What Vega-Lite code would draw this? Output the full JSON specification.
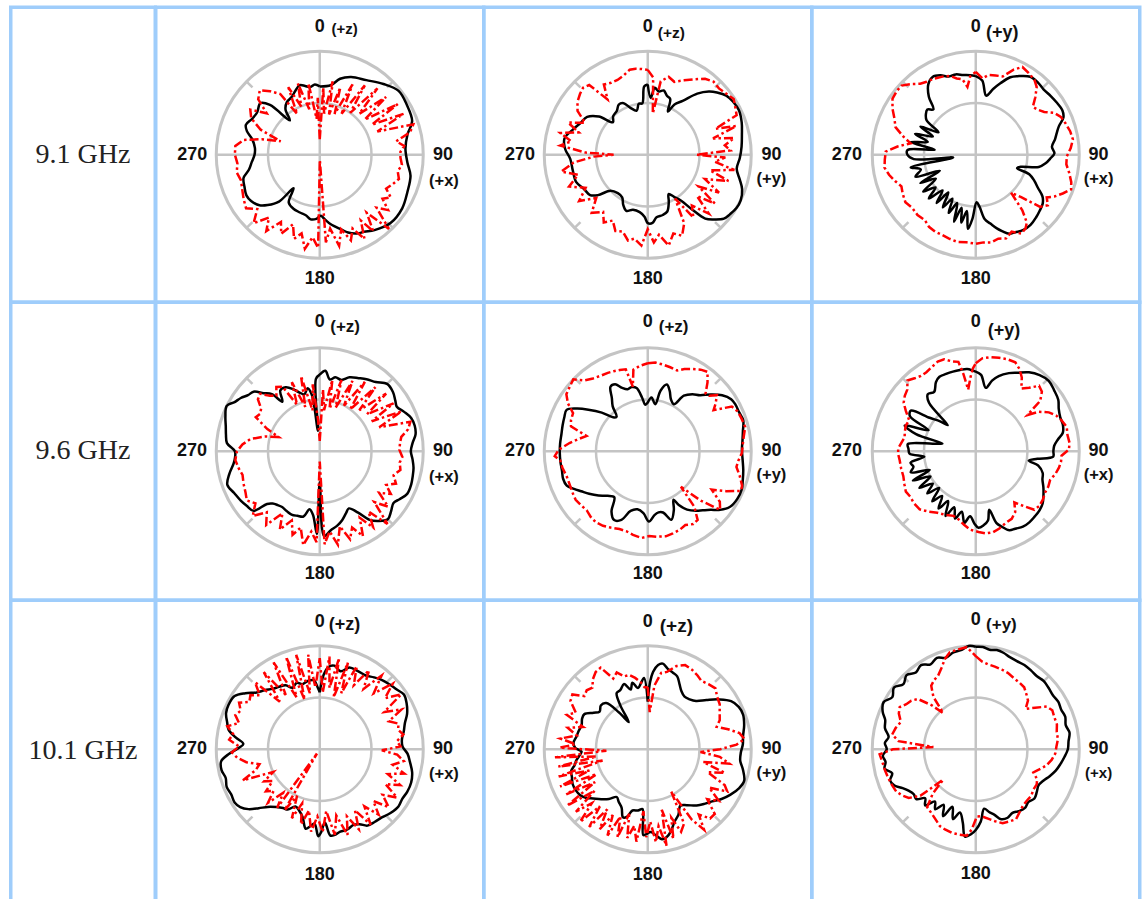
{
"$schema":"https://vega.github.io/schema/vega-lite/v6.json",
"padding":{"left":8.75,"top":5.25,"right":0,"bottom":0},
"config":{"view":{"stroke":"#9fcdfb","strokeWidth":3.5},"concat":{"spacing":0}},
"datasets":{
"grid":[{"x":-1,"y":0,"x2":1,"y2":0},{"x":0,"y":-1,"x2":0,"y2":1},{"x":0.65,"y":0.65,"x2":0.707,"y2":0.707},{"x":0.65,"y":-0.65,"x2":0.707,"y2":-0.707},{"x":-0.65,"y":-0.65,"x2":-0.707,"y2":-0.707},{"x":-0.65,"y":0.65,"x2":-0.707,"y2":0.707}],
"k11":[{"a":0,"r":0.66},{"a":9,"r":0.68},{"a":15,"r":0.76},{"a":22,"r":0.81},{"a":32,"r":0.85},{"a":42,"r":0.92},{"a":51,"r":0.98},{"a":60,"r":0.97},{"a":70,"r":0.95},{"a":77,"r":0.87},{"a":86,"r":0.83},{"a":95,"r":0.85},{"a":103,"r":0.9},{"a":113,"r":0.92},{"a":123,"r":0.95},{"a":134,"r":0.95},{"a":144,"r":0.9},{"a":150,"r":0.86},{"a":155,"r":0.84},{"a":160,"r":0.8},{"a":164,"r":0.75},{"a":171,"r":0.68},{"a":176,"r":0.62},{"a":179,"r":0.59},{"a":183,"r":0.62},{"a":188,"r":0.63},{"a":193,"r":0.6},{"a":199,"r":0.59},{"a":206,"r":0.58},{"a":213,"r":0.55},{"a":218,"r":0.41},{"a":221,"r":0.6},{"a":226,"r":0.7},{"a":230,"r":0.76},{"a":236,"r":0.8},{"a":241,"r":0.81},{"a":247,"r":0.79},{"a":253,"r":0.77},{"a":258,"r":0.7},{"a":264,"r":0.66},{"a":270,"r":0.63},{"a":276,"r":0.63},{"a":283,"r":0.67},{"a":288,"r":0.74},{"a":292,"r":0.77},{"a":298,"r":0.74},{"a":304,"r":0.73},{"a":311,"r":0.76},{"a":315,"r":0.68},{"a":319,"r":0.44},{"a":323,"r":0.55},{"a":328,"r":0.6},{"a":334,"r":0.62},{"a":339,"r":0.66},{"a":344,"r":0.7},{"a":348,"r":0.68},{"a":352,"r":0.66},{"a":356,"r":0.68},{"a":360,"r":0.66}],
"r11":[{"a":0,"r":0.15},{"a":3,"r":0.65},{"a":6,"r":0.4},{"a":10,"r":0.72},{"a":13,"r":0.4},{"a":17,"r":0.68},{"a":20,"r":0.42},{"a":25,"r":0.75},{"a":28,"r":0.45},{"a":33,"r":0.8},{"a":36,"r":0.5},{"a":41,"r":0.85},{"a":44,"r":0.55},{"a":49,"r":0.85},{"a":52,"r":0.55},{"a":57,"r":0.9},{"a":60,"r":0.58},{"a":64,"r":0.9},{"a":68,"r":0.6},{"a":72,"r":0.95},{"a":76,"r":0.9},{"a":80,"r":0.75},{"a":84,"r":0.82},{"a":88,"r":0.78},{"a":92,"r":0.78},{"a":97,"r":0.8},{"a":102,"r":0.77},{"a":107,"r":0.8},{"a":112,"r":0.76},{"a":117,"r":0.72},{"a":121,"r":0.8},{"a":125,"r":0.74},{"a":129,"r":0.85},{"a":133,"r":0.75},{"a":137,"r":0.98},{"a":141,"r":0.72},{"a":145,"r":0.9},{"a":148,"r":0.75},{"a":152,"r":0.92},{"a":156,"r":0.78},{"a":160,"r":0.88},{"a":164,"r":0.75},{"a":168,"r":0.9},{"a":172,"r":0.72},{"a":176,"r":0.85},{"a":179,"r":0.05},{"a":181,"r":0.9},{"a":185,"r":0.8},{"a":189,"r":0.92},{"a":193,"r":0.78},{"a":197,"r":0.85},{"a":201,"r":0.72},{"a":206,"r":0.85},{"a":210,"r":0.75},{"a":215,"r":0.9},{"a":219,"r":0.78},{"a":224,"r":0.92},{"a":229,"r":0.8},{"a":234,"r":0.88},{"a":240,"r":0.85},{"a":246,"r":0.82},{"a":252,"r":0.8},{"a":258,"r":0.82},{"a":264,"r":0.8},{"a":270,"r":0.82},{"a":276,"r":0.82},{"a":281,"r":0.75},{"a":285,"r":0.58},{"a":289,"r":0.4},{"a":293,"r":0.62},{"a":298,"r":0.75},{"a":303,"r":0.8},{"a":308,"r":0.65},{"a":312,"r":0.8},{"a":317,"r":0.85},{"a":322,"r":0.78},{"a":327,"r":0.7},{"a":331,"r":0.45},{"a":335,"r":0.72},{"a":339,"r":0.5},{"a":343,"r":0.72},{"a":347,"r":0.45},{"a":351,"r":0.7},{"a":355,"r":0.35},{"a":358,"r":0.55},{"a":360,"r":0.15}],
"k12":[{"a":0,"r":0.68},{"a":3,"r":0.55},{"a":6,"r":0.65},{"a":10,"r":0.62},{"a":14,"r":0.64},{"a":18,"r":0.6},{"a":22,"r":0.58},{"a":25,"r":0.46},{"a":28,"r":0.55},{"a":33,"r":0.62},{"a":39,"r":0.76},{"a":44,"r":0.85},{"a":48,"r":0.9},{"a":53,"r":0.95},{"a":58,"r":0.97},{"a":64,"r":0.98},{"a":71,"r":0.96},{"a":78,"r":0.93},{"a":85,"r":0.91},{"a":92,"r":0.89},{"a":99,"r":0.87},{"a":105,"r":0.92},{"a":110,"r":0.97},{"a":116,"r":1.0},{"a":121,"r":1.0},{"a":126,"r":0.98},{"a":130,"r":0.96},{"a":134,"r":0.9},{"a":138,"r":0.83},{"a":141,"r":0.68},{"a":144,"r":0.55},{"a":148,"r":0.48},{"a":152,"r":0.43},{"a":156,"r":0.5},{"a":161,"r":0.58},{"a":166,"r":0.6},{"a":172,"r":0.61},{"a":176,"r":0.66},{"a":180,"r":0.66},{"a":183,"r":0.6},{"a":188,"r":0.56},{"a":195,"r":0.55},{"a":201,"r":0.58},{"a":206,"r":0.54},{"a":211,"r":0.48},{"a":218,"r":0.47},{"a":226,"r":0.5},{"a":231,"r":0.62},{"a":235,"r":0.68},{"a":242,"r":0.7},{"a":249,"r":0.74},{"a":258,"r":0.74},{"a":267,"r":0.75},{"a":274,"r":0.8},{"a":281,"r":0.82},{"a":289,"r":0.76},{"a":295,"r":0.72},{"a":302,"r":0.69},{"a":308,"r":0.6},{"a":313,"r":0.46},{"a":318,"r":0.5},{"a":325,"r":0.52},{"a":330,"r":0.56},{"a":335,"r":0.55},{"a":340,"r":0.48},{"a":346,"r":0.44},{"a":350,"r":0.5},{"a":354,"r":0.5},{"a":357,"r":0.66},{"a":360,"r":0.68}],
"r12":[{"a":0,"r":0.82},{"a":4,"r":0.75},{"a":7,"r":0.4},{"a":10,"r":0.72},{"a":15,"r":0.78},{"a":20,"r":0.75},{"a":26,"r":0.8},{"a":32,"r":0.86},{"a":37,"r":0.92},{"a":42,"r":0.95},{"a":47,"r":0.94},{"a":52,"r":0.96},{"a":57,"r":0.99},{"a":62,"r":0.96},{"a":66,"r":0.94},{"a":69,"r":0.7},{"a":72,"r":0.9},{"a":76,"r":0.65},{"a":79,"r":0.85},{"a":83,"r":0.75},{"a":87,"r":0.8},{"a":90,"r":0.47},{"a":92,"r":0.75},{"a":96,"r":0.65},{"a":100,"r":0.85},{"a":104,"r":0.62},{"a":108,"r":0.82},{"a":113,"r":0.6},{"a":118,"r":0.78},{"a":122,"r":0.58},{"a":126,"r":0.8},{"a":130,"r":0.62},{"a":134,"r":0.82},{"a":139,"r":0.65},{"a":144,"r":0.75},{"a":148,"r":0.5},{"a":152,"r":0.75},{"a":157,"r":0.85},{"a":162,"r":0.8},{"a":167,"r":0.9},{"a":172,"r":0.78},{"a":176,"r":0.85},{"a":180,"r":0.72},{"a":184,"r":0.88},{"a":189,"r":0.82},{"a":193,"r":0.85},{"a":198,"r":0.78},{"a":203,"r":0.8},{"a":208,"r":0.72},{"a":213,"r":0.78},{"a":218,"r":0.7},{"a":224,"r":0.78},{"a":230,"r":0.65},{"a":236,"r":0.8},{"a":242,"r":0.68},{"a":248,"r":0.82},{"a":254,"r":0.7},{"a":259,"r":0.85},{"a":264,"r":0.72},{"a":268,"r":0.52},{"a":270,"r":0.33},{"a":272,"r":0.6},{"a":276,"r":0.85},{"a":280,"r":0.75},{"a":284,"r":0.87},{"a":288,"r":0.7},{"a":292,"r":0.83},{"a":297,"r":0.68},{"a":302,"r":0.8},{"a":307,"r":0.85},{"a":312,"r":0.88},{"a":316,"r":0.9},{"a":320,"r":0.88},{"a":324,"r":0.66},{"a":328,"r":0.8},{"a":333,"r":0.78},{"a":338,"r":0.78},{"a":343,"r":0.8},{"a":348,"r":0.84},{"a":352,"r":0.84},{"a":356,"r":0.83},{"a":360,"r":0.82}],
"k13":[{"a":0,"r":0.76},{"a":5,"r":0.72},{"a":10,"r":0.58},{"a":15,"r":0.66},{"a":19,"r":0.73},{"a":24,"r":0.82},{"a":28,"r":0.86},{"a":35,"r":0.92},{"a":41,"r":0.92},{"a":46,"r":0.91},{"a":52,"r":0.92},{"a":57,"r":0.93},{"a":63,"r":0.94},{"a":67,"r":0.92},{"a":71,"r":0.85},{"a":75,"r":0.81},{"a":79,"r":0.78},{"a":84,"r":0.74},{"a":89,"r":0.76},{"a":93,"r":0.72},{"a":97,"r":0.68},{"a":101,"r":0.62},{"a":105,"r":0.45},{"a":108,"r":0.42},{"a":110,"r":0.55},{"a":114,"r":0.62},{"a":118,"r":0.68},{"a":122,"r":0.76},{"a":126,"r":0.8},{"a":131,"r":0.82},{"a":136,"r":0.84},{"a":142,"r":0.86},{"a":148,"r":0.86},{"a":153,"r":0.84},{"a":157,"r":0.83},{"a":161,"r":0.78},{"a":164,"r":0.74},{"a":168,"r":0.68},{"a":172,"r":0.63},{"a":176,"r":0.5},{"a":179,"r":0.46},{"a":183,"r":0.62},{"a":186,"r":0.72},{"a":189,"r":0.55},{"a":192,"r":0.67},{"a":195,"r":0.53},{"a":198,"r":0.68},{"a":201,"r":0.5},{"a":205,"r":0.62},{"a":208,"r":0.48},{"a":212,"r":0.6},{"a":216,"r":0.45},{"a":219,"r":0.6},{"a":223,"r":0.47},{"a":227,"r":0.62},{"a":231,"r":0.5},{"a":235,"r":0.62},{"a":239,"r":0.45},{"a":243,"r":0.6},{"a":246,"r":0.38},{"a":250,"r":0.62},{"a":255,"r":0.55},{"a":259,"r":0.64},{"a":263,"r":0.22},{"a":266,"r":0.6},{"a":270,"r":0.66},{"a":274,"r":0.66},{"a":277,"r":0.4},{"a":281,"r":0.64},{"a":285,"r":0.48},{"a":289,"r":0.62},{"a":293,"r":0.45},{"a":297,"r":0.6},{"a":301,"r":0.42},{"a":305,"r":0.58},{"a":309,"r":0.62},{"a":313,"r":0.64},{"a":317,"r":0.6},{"a":321,"r":0.72},{"a":326,"r":0.82},{"a":331,"r":0.86},{"a":336,"r":0.84},{"a":341,"r":0.8},{"a":346,"r":0.8},{"a":351,"r":0.78},{"a":356,"r":0.77},{"a":360,"r":0.76}],
"r13":[{"a":0,"r":0.8},{"a":5,"r":0.74},{"a":9,"r":0.78},{"a":14,"r":0.79},{"a":19,"r":0.8},{"a":24,"r":0.9},{"a":28,"r":0.96},{"a":33,"r":0.94},{"a":38,"r":0.92},{"a":42,"r":0.88},{"a":46,"r":0.8},{"a":50,"r":0.72},{"a":54,"r":0.74},{"a":58,"r":0.78},{"a":62,"r":0.86},{"a":66,"r":0.9},{"a":71,"r":0.92},{"a":76,"r":0.94},{"a":81,"r":0.95},{"a":86,"r":0.92},{"a":91,"r":0.88},{"a":96,"r":0.88},{"a":101,"r":0.92},{"a":106,"r":0.96},{"a":110,"r":0.98},{"a":114,"r":0.92},{"a":118,"r":0.86},{"a":121,"r":0.8},{"a":125,"r":0.85},{"a":129,"r":0.8},{"a":133,"r":0.6},{"a":137,"r":0.5},{"a":140,"r":0.7},{"a":143,"r":0.82},{"a":146,"r":0.86},{"a":150,"r":0.88},{"a":155,"r":0.82},{"a":160,"r":0.86},{"a":165,"r":0.84},{"a":170,"r":0.86},{"a":175,"r":0.85},{"a":180,"r":0.86},{"a":186,"r":0.85},{"a":192,"r":0.86},{"a":198,"r":0.85},{"a":203,"r":0.84},{"a":208,"r":0.84},{"a":213,"r":0.83},{"a":218,"r":0.8},{"a":224,"r":0.81},{"a":230,"r":0.8},{"a":236,"r":0.82},{"a":242,"r":0.8},{"a":247,"r":0.78},{"a":252,"r":0.82},{"a":257,"r":0.86},{"a":262,"r":0.89},{"a":267,"r":0.88},{"a":272,"r":0.87},{"a":276,"r":0.76},{"a":280,"r":0.64},{"a":284,"r":0.72},{"a":289,"r":0.82},{"a":294,"r":0.86},{"a":299,"r":0.92},{"a":304,"r":0.97},{"a":309,"r":0.98},{"a":313,"r":0.98},{"a":318,"r":0.92},{"a":322,"r":0.87},{"a":326,"r":0.85},{"a":331,"r":0.84},{"a":337,"r":0.82},{"a":342,"r":0.8},{"a":346,"r":0.76},{"a":350,"r":0.74},{"a":353,"r":0.66},{"a":356,"r":0.76},{"a":360,"r":0.8}],
"k21":[{"a":0,"r":0.74},{"a":4,"r":0.78},{"a":8,"r":0.7},{"a":12,"r":0.73},{"a":17,"r":0.72},{"a":22,"r":0.77},{"a":28,"r":0.8},{"a":33,"r":0.83},{"a":39,"r":0.86},{"a":45,"r":0.92},{"a":51,"r":0.91},{"a":56,"r":0.88},{"a":60,"r":0.86},{"a":65,"r":0.9},{"a":70,"r":0.94},{"a":75,"r":0.95},{"a":80,"r":0.94},{"a":85,"r":0.9},{"a":90,"r":0.88},{"a":95,"r":0.9},{"a":100,"r":0.92},{"a":105,"r":0.93},{"a":110,"r":0.94},{"a":116,"r":0.94},{"a":121,"r":0.9},{"a":125,"r":0.87},{"a":130,"r":0.9},{"a":135,"r":0.93},{"a":140,"r":0.88},{"a":144,"r":0.82},{"a":148,"r":0.7},{"a":153,"r":0.62},{"a":157,"r":0.65},{"a":162,"r":0.7},{"a":167,"r":0.74},{"a":172,"r":0.77},{"a":177,"r":0.82},{"a":180,"r":0.3},{"a":182,"r":0.8},{"a":186,"r":0.62},{"a":190,"r":0.57},{"a":194,"r":0.65},{"a":199,"r":0.66},{"a":204,"r":0.67},{"a":209,"r":0.66},{"a":214,"r":0.65},{"a":218,"r":0.66},{"a":222,"r":0.68},{"a":225,"r":0.72},{"a":228,"r":0.86},{"a":233,"r":0.88},{"a":238,"r":0.9},{"a":244,"r":0.92},{"a":250,"r":0.95},{"a":256,"r":0.9},{"a":262,"r":0.84},{"a":266,"r":0.82},{"a":270,"r":0.82},{"a":275,"r":0.9},{"a":280,"r":0.92},{"a":285,"r":0.94},{"a":290,"r":0.97},{"a":296,"r":1.0},{"a":300,"r":0.95},{"a":304,"r":0.92},{"a":308,"r":0.88},{"a":312,"r":0.86},{"a":316,"r":0.78},{"a":320,"r":0.72},{"a":323,"r":0.6},{"a":327,"r":0.7},{"a":332,"r":0.7},{"a":337,"r":0.65},{"a":341,"r":0.6},{"a":345,"r":0.57},{"a":349,"r":0.62},{"a":352,"r":0.55},{"a":355,"r":0.2},{"a":357,"r":0.7},{"a":360,"r":0.74}],
"r21":[{"a":0,"r":0.1},{"a":3,"r":0.6},{"a":6,"r":0.4},{"a":10,"r":0.7},{"a":13,"r":0.42},{"a":17,"r":0.72},{"a":20,"r":0.45},{"a":25,"r":0.75},{"a":28,"r":0.5},{"a":33,"r":0.8},{"a":36,"r":0.5},{"a":41,"r":0.82},{"a":44,"r":0.55},{"a":49,"r":0.85},{"a":52,"r":0.58},{"a":57,"r":0.85},{"a":60,"r":0.58},{"a":64,"r":0.88},{"a":68,"r":0.62},{"a":72,"r":0.92},{"a":76,"r":0.88},{"a":80,"r":0.8},{"a":84,"r":0.78},{"a":89,"r":0.77},{"a":94,"r":0.8},{"a":98,"r":0.78},{"a":103,"r":0.8},{"a":108,"r":0.75},{"a":113,"r":0.8},{"a":117,"r":0.72},{"a":121,"r":0.8},{"a":125,"r":0.7},{"a":129,"r":0.85},{"a":133,"r":0.72},{"a":137,"r":0.96},{"a":141,"r":0.75},{"a":145,"r":0.9},{"a":149,"r":0.75},{"a":153,"r":0.92},{"a":157,"r":0.8},{"a":161,"r":0.9},{"a":165,"r":0.75},{"a":169,"r":0.92},{"a":173,"r":0.78},{"a":177,"r":0.9},{"a":180,"r":0.1},{"a":182,"r":0.88},{"a":186,"r":0.78},{"a":190,"r":0.92},{"a":194,"r":0.76},{"a":198,"r":0.85},{"a":202,"r":0.72},{"a":207,"r":0.85},{"a":211,"r":0.7},{"a":216,"r":0.88},{"a":221,"r":0.78},{"a":226,"r":0.9},{"a":231,"r":0.8},{"a":236,"r":0.85},{"a":241,"r":0.82},{"a":247,"r":0.8},{"a":253,"r":0.78},{"a":258,"r":0.8},{"a":264,"r":0.82},{"a":270,"r":0.8},{"a":275,"r":0.75},{"a":280,"r":0.68},{"a":285,"r":0.55},{"a":289,"r":0.42},{"a":293,"r":0.55},{"a":298,"r":0.7},{"a":302,"r":0.68},{"a":306,"r":0.7},{"a":310,"r":0.78},{"a":314,"r":0.8},{"a":318,"r":0.72},{"a":322,"r":0.68},{"a":326,"r":0.75},{"a":330,"r":0.72},{"a":334,"r":0.5},{"a":338,"r":0.72},{"a":342,"r":0.45},{"a":346,"r":0.75},{"a":350,"r":0.4},{"a":354,"r":0.65},{"a":357,"r":0.3},{"a":360,"r":0.1}],
"k22":[{"a":0,"r":0.47},{"a":4,"r":0.52},{"a":9,"r":0.46},{"a":12,"r":0.6},{"a":16,"r":0.67},{"a":20,"r":0.62},{"a":24,"r":0.55},{"a":29,"r":0.52},{"a":33,"r":0.64},{"a":38,"r":0.7},{"a":43,"r":0.74},{"a":48,"r":0.82},{"a":53,"r":0.9},{"a":58,"r":0.95},{"a":62,"r":0.96},{"a":67,"r":0.96},{"a":72,"r":0.97},{"a":78,"r":0.94},{"a":84,"r":0.92},{"a":89,"r":0.91},{"a":95,"r":0.92},{"a":101,"r":0.94},{"a":107,"r":0.96},{"a":112,"r":0.98},{"a":118,"r":0.98},{"a":124,"r":0.96},{"a":129,"r":0.9},{"a":133,"r":0.83},{"a":137,"r":0.78},{"a":141,"r":0.74},{"a":146,"r":0.68},{"a":150,"r":0.6},{"a":152,"r":0.53},{"a":156,"r":0.62},{"a":161,"r":0.7},{"a":166,"r":0.61},{"a":170,"r":0.6},{"a":174,"r":0.62},{"a":179,"r":0.68},{"a":184,"r":0.6},{"a":190,"r":0.57},{"a":196,"r":0.6},{"a":201,"r":0.71},{"a":206,"r":0.74},{"a":211,"r":0.68},{"a":216,"r":0.55},{"a":222,"r":0.58},{"a":228,"r":0.64},{"a":234,"r":0.7},{"a":239,"r":0.75},{"a":243,"r":0.8},{"a":247,"r":0.85},{"a":252,"r":0.86},{"a":257,"r":0.85},{"a":263,"r":0.85},{"a":269,"r":0.85},{"a":275,"r":0.85},{"a":281,"r":0.85},{"a":287,"r":0.86},{"a":292,"r":0.87},{"a":297,"r":0.88},{"a":301,"r":0.8},{"a":305,"r":0.7},{"a":310,"r":0.58},{"a":315,"r":0.46},{"a":318,"r":0.45},{"a":322,"r":0.55},{"a":326,"r":0.62},{"a":330,"r":0.72},{"a":334,"r":0.72},{"a":338,"r":0.66},{"a":342,"r":0.63},{"a":346,"r":0.64},{"a":350,"r":0.62},{"a":354,"r":0.52},{"a":357,"r":0.45},{"a":360,"r":0.47}],
"r22":[{"a":0,"r":0.85},{"a":5,"r":0.86},{"a":10,"r":0.85},{"a":15,"r":0.84},{"a":20,"r":0.83},{"a":24,"r":0.87},{"a":28,"r":0.9},{"a":33,"r":0.94},{"a":37,"r":0.96},{"a":41,"r":0.88},{"a":45,"r":0.79},{"a":48,"r":0.8},{"a":51,"r":0.86},{"a":55,"r":0.8},{"a":58,"r":0.75},{"a":62,"r":0.92},{"a":66,"r":0.95},{"a":71,"r":0.96},{"a":76,"r":0.97},{"a":81,"r":0.94},{"a":86,"r":0.92},{"a":91,"r":0.91},{"a":96,"r":0.88},{"a":100,"r":0.87},{"a":105,"r":0.92},{"a":110,"r":0.97},{"a":113,"r":0.98},{"a":117,"r":0.85},{"a":121,"r":0.72},{"a":125,"r":0.85},{"a":129,"r":0.9},{"a":133,"r":0.7},{"a":137,"r":0.47},{"a":140,"r":0.7},{"a":144,"r":0.82},{"a":148,"r":0.83},{"a":153,"r":0.8},{"a":158,"r":0.82},{"a":163,"r":0.83},{"a":168,"r":0.84},{"a":174,"r":0.83},{"a":179,"r":0.82},{"a":184,"r":0.84},{"a":190,"r":0.82},{"a":195,"r":0.8},{"a":200,"r":0.8},{"a":206,"r":0.82},{"a":211,"r":0.84},{"a":216,"r":0.85},{"a":221,"r":0.84},{"a":226,"r":0.82},{"a":231,"r":0.83},{"a":236,"r":0.84},{"a":241,"r":0.83},{"a":247,"r":0.82},{"a":253,"r":0.82},{"a":259,"r":0.84},{"a":264,"r":0.85},{"a":267,"r":0.9},{"a":271,"r":0.86},{"a":276,"r":0.76},{"a":280,"r":0.68},{"a":284,"r":0.61},{"a":288,"r":0.78},{"a":292,"r":0.8},{"a":297,"r":0.81},{"a":301,"r":0.9},{"a":305,"r":0.96},{"a":310,"r":0.98},{"a":314,"r":1.0},{"a":318,"r":0.92},{"a":323,"r":0.88},{"a":328,"r":0.86},{"a":333,"r":0.85},{"a":337,"r":0.84},{"a":341,"r":0.83},{"a":345,"r":0.82},{"a":347,"r":0.64},{"a":350,"r":0.8},{"a":355,"r":0.83},{"a":360,"r":0.85}],
"k23":[{"a":0,"r":0.77},{"a":4,"r":0.74},{"a":9,"r":0.62},{"a":13,"r":0.7},{"a":17,"r":0.76},{"a":23,"r":0.82},{"a":28,"r":0.86},{"a":34,"r":0.92},{"a":40,"r":0.96},{"a":46,"r":0.98},{"a":52,"r":0.96},{"a":58,"r":0.94},{"a":63,"r":0.9},{"a":68,"r":0.88},{"a":73,"r":0.88},{"a":78,"r":0.86},{"a":82,"r":0.8},{"a":86,"r":0.76},{"a":90,"r":0.75},{"a":94,"r":0.75},{"a":97,"r":0.6},{"a":100,"r":0.52},{"a":103,"r":0.62},{"a":108,"r":0.68},{"a":113,"r":0.7},{"a":118,"r":0.74},{"a":123,"r":0.78},{"a":128,"r":0.82},{"a":133,"r":0.84},{"a":138,"r":0.85},{"a":143,"r":0.86},{"a":148,"r":0.86},{"a":153,"r":0.84},{"a":157,"r":0.83},{"a":161,"r":0.77},{"a":164,"r":0.72},{"a":167,"r":0.58},{"a":170,"r":0.68},{"a":174,"r":0.72},{"a":178,"r":0.74},{"a":181,"r":0.7},{"a":185,"r":0.63},{"a":189,"r":0.7},{"a":193,"r":0.6},{"a":197,"r":0.68},{"a":201,"r":0.58},{"a":205,"r":0.69},{"a":209,"r":0.55},{"a":213,"r":0.66},{"a":217,"r":0.54},{"a":221,"r":0.64},{"a":225,"r":0.5},{"a":229,"r":0.62},{"a":233,"r":0.52},{"a":237,"r":0.65},{"a":241,"r":0.5},{"a":245,"r":0.67},{"a":248,"r":0.48},{"a":252,"r":0.66},{"a":256,"r":0.62},{"a":260,"r":0.64},{"a":264,"r":0.5},{"a":268,"r":0.64},{"a":272,"r":0.65},{"a":276,"r":0.66},{"a":280,"r":0.42},{"a":283,"r":0.33},{"a":286,"r":0.6},{"a":290,"r":0.73},{"a":294,"r":0.5},{"a":298,"r":0.72},{"a":302,"r":0.74},{"a":306,"r":0.55},{"a":310,"r":0.45},{"a":313,"r":0.37},{"a":316,"r":0.65},{"a":320,"r":0.72},{"a":325,"r":0.7},{"a":330,"r":0.77},{"a":334,"r":0.8},{"a":339,"r":0.8},{"a":344,"r":0.8},{"a":349,"r":0.8},{"a":354,"r":0.8},{"a":358,"r":0.78},{"a":360,"r":0.77}],
"r23":[{"a":0,"r":0.85},{"a":4,"r":0.9},{"a":9,"r":0.92},{"a":14,"r":0.93},{"a":19,"r":0.94},{"a":24,"r":0.94},{"a":28,"r":0.9},{"a":32,"r":0.84},{"a":36,"r":0.75},{"a":40,"r":0.8},{"a":44,"r":0.88},{"a":48,"r":0.86},{"a":52,"r":0.79},{"a":55,"r":0.61},{"a":58,"r":0.72},{"a":62,"r":0.8},{"a":66,"r":0.85},{"a":70,"r":0.88},{"a":75,"r":0.91},{"a":80,"r":0.9},{"a":85,"r":0.91},{"a":89,"r":0.9},{"a":93,"r":0.83},{"a":97,"r":0.83},{"a":101,"r":0.82},{"a":106,"r":0.8},{"a":111,"r":0.77},{"a":116,"r":0.78},{"a":121,"r":0.78},{"a":126,"r":0.8},{"a":131,"r":0.81},{"a":135,"r":0.8},{"a":139,"r":0.7},{"a":143,"r":0.62},{"a":147,"r":0.7},{"a":152,"r":0.74},{"a":157,"r":0.75},{"a":163,"r":0.78},{"a":168,"r":0.8},{"a":173,"r":0.8},{"a":178,"r":0.78},{"a":184,"r":0.76},{"a":189,"r":0.72},{"a":194,"r":0.68},{"a":199,"r":0.66},{"a":205,"r":0.68},{"a":212,"r":0.7},{"a":218,"r":0.74},{"a":224,"r":0.78},{"a":230,"r":0.78},{"a":235,"r":0.77},{"a":240,"r":0.78},{"a":245,"r":0.76},{"a":251,"r":0.74},{"a":257,"r":0.74},{"a":263,"r":0.74},{"a":268,"r":0.75},{"a":272,"r":0.75},{"a":277,"r":0.72},{"a":281,"r":0.7},{"a":285,"r":0.71},{"a":290,"r":0.72},{"a":295,"r":0.71},{"a":300,"r":0.78},{"a":304,"r":0.84},{"a":308,"r":0.87},{"a":312,"r":0.89},{"a":316,"r":0.95},{"a":320,"r":0.92},{"a":324,"r":0.9},{"a":328,"r":0.9},{"a":333,"r":0.92},{"a":337,"r":0.94},{"a":341,"r":0.94},{"a":345,"r":0.9},{"a":349,"r":0.88},{"a":351,"r":0.75},{"a":353,"r":0.6},{"a":356,"r":0.72},{"a":358,"r":0.8},{"a":360,"r":0.85}],
"k31":[{"a":0,"r":0.55},{"a":3,"r":0.72},{"a":6,"r":0.8},{"a":10,"r":0.82},{"a":15,"r":0.78},{"a":20,"r":0.84},{"a":26,"r":0.84},{"a":32,"r":0.84},{"a":37,"r":0.87},{"a":42,"r":0.9},{"a":47,"r":0.92},{"a":52,"r":0.94},{"a":57,"r":0.97},{"a":62,"r":0.95},{"a":68,"r":0.91},{"a":73,"r":0.86},{"a":78,"r":0.83},{"a":83,"r":0.8},{"a":88,"r":0.8},{"a":93,"r":0.85},{"a":98,"r":0.88},{"a":104,"r":0.92},{"a":110,"r":0.94},{"a":116,"r":0.94},{"a":121,"r":0.93},{"a":126,"r":0.94},{"a":132,"r":0.92},{"a":138,"r":0.89},{"a":143,"r":0.88},{"a":148,"r":0.87},{"a":152,"r":0.82},{"a":156,"r":0.8},{"a":161,"r":0.82},{"a":166,"r":0.82},{"a":170,"r":0.84},{"a":173,"r":0.84},{"a":176,"r":0.71},{"a":179,"r":0.8},{"a":181,"r":0.84},{"a":184,"r":0.72},{"a":187,"r":0.75},{"a":190,"r":0.78},{"a":194,"r":0.68},{"a":198,"r":0.63},{"a":203,"r":0.6},{"a":208,"r":0.66},{"a":212,"r":0.67},{"a":217,"r":0.7},{"a":222,"r":0.75},{"a":226,"r":0.82},{"a":230,"r":0.9},{"a":234,"r":0.95},{"a":238,"r":0.97},{"a":243,"r":0.96},{"a":248,"r":0.97},{"a":253,"r":0.95},{"a":258,"r":0.97},{"a":263,"r":0.96},{"a":267,"r":0.88},{"a":271,"r":0.78},{"a":274,"r":0.74},{"a":278,"r":0.82},{"a":282,"r":0.9},{"a":286,"r":0.93},{"a":291,"r":0.97},{"a":296,"r":0.98},{"a":302,"r":0.97},{"a":307,"r":0.9},{"a":312,"r":0.82},{"a":317,"r":0.78},{"a":322,"r":0.74},{"a":327,"r":0.72},{"a":332,"r":0.7},{"a":336,"r":0.65},{"a":341,"r":0.68},{"a":345,"r":0.65},{"a":350,"r":0.67},{"a":355,"r":0.67},{"a":358,"r":0.6},{"a":360,"r":0.55}],
"r31":[{"a":0,"r":0.88},{"a":3,"r":0.55},{"a":6,"r":0.9},{"a":9,"r":0.6},{"a":12,"r":0.9},{"a":15,"r":0.52},{"a":18,"r":0.88},{"a":21,"r":0.58},{"a":24,"r":0.88},{"a":28,"r":0.7},{"a":32,"r":0.9},{"a":36,"r":0.72},{"a":40,"r":0.93},{"a":44,"r":0.75},{"a":48,"r":0.95},{"a":52,"r":0.8},{"a":56,"r":0.95},{"a":60,"r":0.72},{"a":64,"r":0.88},{"a":68,"r":0.72},{"a":72,"r":0.8},{"a":76,"r":0.78},{"a":80,"r":0.82},{"a":84,"r":0.75},{"a":88,"r":0.78},{"a":91,"r":0.6},{"a":94,"r":0.75},{"a":98,"r":0.82},{"a":102,"r":0.72},{"a":106,"r":0.85},{"a":110,"r":0.7},{"a":114,"r":0.85},{"a":118,"r":0.72},{"a":122,"r":0.88},{"a":126,"r":0.75},{"a":130,"r":0.87},{"a":134,"r":0.72},{"a":138,"r":0.85},{"a":142,"r":0.7},{"a":146,"r":0.88},{"a":150,"r":0.68},{"a":154,"r":0.86},{"a":158,"r":0.7},{"a":162,"r":0.87},{"a":166,"r":0.66},{"a":170,"r":0.84},{"a":174,"r":0.6},{"a":178,"r":0.8},{"a":182,"r":0.65},{"a":186,"r":0.8},{"a":190,"r":0.6},{"a":194,"r":0.75},{"a":198,"r":0.55},{"a":202,"r":0.72},{"a":206,"r":0.5},{"a":210,"r":0.68},{"a":213,"r":0.05},{"a":216,"r":0.7},{"a":220,"r":0.55},{"a":224,"r":0.72},{"a":228,"r":0.6},{"a":232,"r":0.66},{"a":236,"r":0.55},{"a":240,"r":0.62},{"a":244,"r":0.5},{"a":248,"r":0.8},{"a":252,"r":0.65},{"a":256,"r":0.6},{"a":260,"r":0.72},{"a":264,"r":0.8},{"a":268,"r":0.85},{"a":272,"r":0.78},{"a":276,"r":0.88},{"a":280,"r":0.85},{"a":284,"r":0.92},{"a":288,"r":0.82},{"a":292,"r":0.88},{"a":296,"r":0.85},{"a":300,"r":0.9},{"a":304,"r":0.82},{"a":308,"r":0.85},{"a":312,"r":0.78},{"a":316,"r":0.9},{"a":320,"r":0.6},{"a":324,"r":0.92},{"a":328,"r":0.62},{"a":332,"r":0.95},{"a":336,"r":0.55},{"a":340,"r":0.95},{"a":343,"r":0.5},{"a":346,"r":0.94},{"a":350,"r":0.55},{"a":353,"r":0.92},{"a":356,"r":0.6},{"a":360,"r":0.88}],
"k32":[{"a":0,"r":0.46},{"a":2,"r":0.65},{"a":4,"r":0.75},{"a":7,"r":0.82},{"a":10,"r":0.84},{"a":14,"r":0.8},{"a":18,"r":0.78},{"a":22,"r":0.76},{"a":26,"r":0.7},{"a":30,"r":0.65},{"a":35,"r":0.62},{"a":40,"r":0.63},{"a":45,"r":0.66},{"a":50,"r":0.74},{"a":55,"r":0.84},{"a":60,"r":0.93},{"a":65,"r":0.97},{"a":70,"r":0.98},{"a":76,"r":0.96},{"a":82,"r":0.93},{"a":87,"r":0.92},{"a":92,"r":0.9},{"a":97,"r":0.9},{"a":102,"r":0.94},{"a":108,"r":0.98},{"a":113,"r":0.96},{"a":119,"r":0.91},{"a":124,"r":0.86},{"a":129,"r":0.8},{"a":134,"r":0.76},{"a":139,"r":0.72},{"a":145,"r":0.66},{"a":150,"r":0.63},{"a":155,"r":0.7},{"a":160,"r":0.75},{"a":164,"r":0.82},{"a":168,"r":0.87},{"a":171,"r":0.88},{"a":175,"r":0.83},{"a":178,"r":0.8},{"a":181,"r":0.82},{"a":183,"r":0.83},{"a":185,"r":0.58},{"a":189,"r":0.6},{"a":194,"r":0.61},{"a":197,"r":0.68},{"a":200,"r":0.7},{"a":204,"r":0.62},{"a":209,"r":0.58},{"a":213,"r":0.55},{"a":218,"r":0.61},{"a":223,"r":0.66},{"a":228,"r":0.71},{"a":232,"r":0.76},{"a":236,"r":0.79},{"a":240,"r":0.8},{"a":245,"r":0.8},{"a":250,"r":0.78},{"a":254,"r":0.77},{"a":258,"r":0.72},{"a":261,"r":0.7},{"a":265,"r":0.66},{"a":268,"r":0.64},{"a":271,"r":0.7},{"a":275,"r":0.72},{"a":280,"r":0.7},{"a":285,"r":0.69},{"a":290,"r":0.68},{"a":295,"r":0.7},{"a":299,"r":0.7},{"a":304,"r":0.63},{"a":308,"r":0.59},{"a":313,"r":0.62},{"a":318,"r":0.6},{"a":322,"r":0.45},{"a":325,"r":0.32},{"a":328,"r":0.5},{"a":331,"r":0.62},{"a":335,"r":0.63},{"a":340,"r":0.67},{"a":344,"r":0.6},{"a":347,"r":0.66},{"a":351,"r":0.6},{"a":354,"r":0.64},{"a":357,"r":0.69},{"a":360,"r":0.46}],
"r32":[{"a":0,"r":0.6},{"a":3,"r":0.36},{"a":6,"r":0.62},{"a":10,"r":0.75},{"a":14,"r":0.77},{"a":19,"r":0.85},{"a":24,"r":0.89},{"a":29,"r":0.88},{"a":34,"r":0.86},{"a":38,"r":0.84},{"a":43,"r":0.86},{"a":48,"r":0.88},{"a":53,"r":0.84},{"a":58,"r":0.82},{"a":63,"r":0.78},{"a":68,"r":0.75},{"a":72,"r":0.7},{"a":76,"r":0.8},{"a":80,"r":0.9},{"a":84,"r":0.94},{"a":87,"r":0.86},{"a":90,"r":0.7},{"a":93,"r":0.51},{"a":96,"r":0.7},{"a":100,"r":0.8},{"a":103,"r":0.55},{"a":107,"r":0.78},{"a":111,"r":0.62},{"a":115,"r":0.82},{"a":118,"r":0.87},{"a":122,"r":0.7},{"a":126,"r":0.85},{"a":130,"r":0.75},{"a":134,"r":0.9},{"a":138,"r":0.9},{"a":142,"r":0.8},{"a":145,"r":0.95},{"a":148,"r":0.8},{"a":151,"r":0.47},{"a":154,"r":0.8},{"a":158,"r":0.86},{"a":161,"r":0.7},{"a":164,"r":0.9},{"a":167,"r":0.6},{"a":169,"r":0.95},{"a":172,"r":0.75},{"a":175,"r":0.9},{"a":178,"r":0.7},{"a":181,"r":0.85},{"a":184,"r":0.6},{"a":187,"r":0.9},{"a":190,"r":0.75},{"a":193,"r":0.88},{"a":196,"r":0.65},{"a":199,"r":0.9},{"a":202,"r":0.7},{"a":205,"r":0.92},{"a":208,"r":0.72},{"a":211,"r":0.9},{"a":214,"r":0.7},{"a":217,"r":0.94},{"a":220,"r":0.72},{"a":223,"r":0.96},{"a":226,"r":0.75},{"a":229,"r":0.92},{"a":232,"r":0.65},{"a":235,"r":0.95},{"a":238,"r":0.6},{"a":241,"r":0.9},{"a":244,"r":0.55},{"a":247,"r":0.92},{"a":250,"r":0.6},{"a":253,"r":0.9},{"a":256,"r":0.45},{"a":259,"r":0.88},{"a":262,"r":0.5},{"a":265,"r":0.9},{"a":268,"r":0.4},{"a":271,"r":0.85},{"a":274,"r":0.7},{"a":277,"r":0.85},{"a":281,"r":0.7},{"a":285,"r":0.8},{"a":289,"r":0.66},{"a":293,"r":0.85},{"a":297,"r":0.78},{"a":302,"r":0.88},{"a":306,"r":0.9},{"a":310,"r":0.8},{"a":314,"r":0.82},{"a":318,"r":0.8},{"a":322,"r":0.86},{"a":326,"r":0.9},{"a":330,"r":0.91},{"a":334,"r":0.76},{"a":338,"r":0.8},{"a":342,"r":0.74},{"a":346,"r":0.74},{"a":350,"r":0.7},{"a":354,"r":0.65},{"a":357,"r":0.6},{"a":360,"r":0.6}],
"k33":[{"a":0,"r":0.99},{"a":4,"r":0.99},{"a":8,"r":0.97},{"a":12,"r":0.98},{"a":16,"r":0.97},{"a":20,"r":0.95},{"a":25,"r":0.94},{"a":30,"r":0.94},{"a":35,"r":0.93},{"a":40,"r":0.92},{"a":45,"r":0.93},{"a":50,"r":0.92},{"a":55,"r":0.91},{"a":60,"r":0.92},{"a":65,"r":0.91},{"a":70,"r":0.92},{"a":75,"r":0.9},{"a":80,"r":0.92},{"a":85,"r":0.9},{"a":90,"r":0.89},{"a":95,"r":0.86},{"a":100,"r":0.83},{"a":105,"r":0.8},{"a":110,"r":0.76},{"a":115,"r":0.72},{"a":120,"r":0.7},{"a":125,"r":0.72},{"a":130,"r":0.74},{"a":135,"r":0.72},{"a":140,"r":0.74},{"a":145,"r":0.73},{"a":150,"r":0.71},{"a":155,"r":0.73},{"a":160,"r":0.72},{"a":164,"r":0.66},{"a":168,"r":0.62},{"a":172,"r":0.58},{"a":176,"r":0.7},{"a":180,"r":0.78},{"a":183,"r":0.82},{"a":187,"r":0.85},{"a":190,"r":0.72},{"a":194,"r":0.63},{"a":198,"r":0.71},{"a":202,"r":0.6},{"a":206,"r":0.72},{"a":210,"r":0.62},{"a":214,"r":0.7},{"a":218,"r":0.64},{"a":222,"r":0.73},{"a":226,"r":0.68},{"a":230,"r":0.75},{"a":234,"r":0.74},{"a":238,"r":0.76},{"a":242,"r":0.8},{"a":246,"r":0.86},{"a":250,"r":0.88},{"a":254,"r":0.84},{"a":258,"r":0.9},{"a":262,"r":0.88},{"a":266,"r":0.9},{"a":270,"r":0.86},{"a":274,"r":0.88},{"a":278,"r":0.85},{"a":283,"r":0.9},{"a":288,"r":0.92},{"a":292,"r":0.97},{"a":297,"r":1.0},{"a":302,"r":0.95},{"a":307,"r":0.99},{"a":312,"r":0.94},{"a":317,"r":0.98},{"a":322,"r":0.94},{"a":327,"r":0.97},{"a":332,"r":0.93},{"a":337,"r":0.96},{"a":342,"r":0.93},{"a":347,"r":0.96},{"a":352,"r":0.97},{"a":356,"r":1.0},{"a":360,"r":0.99}],
"r33":[{"a":0,"r":0.9},{"a":4,"r":0.85},{"a":8,"r":0.83},{"a":13,"r":0.82},{"a":18,"r":0.81},{"a":23,"r":0.8},{"a":28,"r":0.78},{"a":33,"r":0.77},{"a":38,"r":0.76},{"a":43,"r":0.72},{"a":47,"r":0.69},{"a":51,"r":0.62},{"a":55,"r":0.7},{"a":59,"r":0.8},{"a":63,"r":0.83},{"a":68,"r":0.82},{"a":73,"r":0.82},{"a":78,"r":0.8},{"a":83,"r":0.8},{"a":88,"r":0.78},{"a":93,"r":0.77},{"a":98,"r":0.74},{"a":103,"r":0.7},{"a":108,"r":0.64},{"a":112,"r":0.6},{"a":116,"r":0.66},{"a":120,"r":0.68},{"a":125,"r":0.68},{"a":130,"r":0.7},{"a":135,"r":0.7},{"a":140,"r":0.71},{"a":145,"r":0.74},{"a":150,"r":0.78},{"a":155,"r":0.77},{"a":160,"r":0.76},{"a":165,"r":0.72},{"a":170,"r":0.68},{"a":175,"r":0.65},{"a":179,"r":0.65},{"a":183,"r":0.78},{"a":186,"r":0.84},{"a":191,"r":0.84},{"a":196,"r":0.84},{"a":201,"r":0.83},{"a":205,"r":0.82},{"a":210,"r":0.78},{"a":215,"r":0.75},{"a":220,"r":0.73},{"a":224,"r":0.6},{"a":227,"r":0.43},{"a":230,"r":0.7},{"a":234,"r":0.8},{"a":238,"r":0.84},{"a":242,"r":0.87},{"a":247,"r":0.88},{"a":252,"r":0.89},{"a":257,"r":0.9},{"a":262,"r":0.91},{"a":267,"r":0.93},{"a":270,"r":0.8},{"a":273,"r":0.41},{"a":276,"r":0.75},{"a":280,"r":0.82},{"a":285,"r":0.8},{"a":290,"r":0.77},{"a":295,"r":0.82},{"a":299,"r":0.84},{"a":303,"r":0.8},{"a":307,"r":0.78},{"a":311,"r":0.74},{"a":315,"r":0.6},{"a":318,"r":0.47},{"a":321,"r":0.65},{"a":325,"r":0.75},{"a":329,"r":0.78},{"a":333,"r":0.8},{"a":337,"r":0.85},{"a":341,"r":0.92},{"a":345,"r":0.97},{"a":350,"r":0.98},{"a":355,"r":0.99},{"a":360,"r":0.9}]
},
"columns":4,"spacing":0,"bounds":"flush","align":"each",
"concat":[
{"width":144.5,"height":295,"data":{"values":[{"x":0,"y":0,"t":"9.1 GHz"}]},"mark":{"type":"text","font":"Liberation Serif","fontSize":28,"color":"#222"},"encoding":{"x":{"field":"x","type":"quantitative","scale":{"domain":[-1,1]},"axis":null},"y":{"field":"y","type":"quantitative","scale":{"domain":[-1,1]},"axis":null},"text":{"field":"t","type":"nominal"}}},
{"width":328,"height":295,"encoding":{"x":{"field":"x","type":"quantitative","scale":{"domain":[-1.5845,1.5845]},"axis":null},"y":{"field":"y","type":"quantitative","scale":{"domain":[-1.4251,1.4251]},"axis":null}},
"layer":[
{"data":{"name":"grid"},"mark":{"type":"rule","color":"#c4c4c4","strokeWidth":2.5},"encoding":{"x2":{"field":"x2"},"y2":{"field":"y2"}}},
{"data":{"values":[{"x":0,"y":0}]},"mark":{"type":"point","shape":"circle","filled":false,"size":42849,"color":"#c4c4c4","strokeWidth":3,"opacity":1}},
{"data":{"values":[{"x":0,"y":0}]},"mark":{"type":"point","shape":"circle","filled":false,"size":10712,"color":"#c4c4c4","strokeWidth":2.5,"opacity":1}},
{"data":{"name":"k11"},"transform":[{"calculate":"datum.r*sin(datum.a*PI/180)","as":"x"},{"calculate":"datum.r*cos(datum.a*PI/180)","as":"y"}],"mark":{"type":"line","color":"#000","strokeWidth":2.5,"interpolate":"catmull-rom"},"encoding":{"order":{"field":"a","type":"quantitative"}}},
{"data":{"name":"r11"},"transform":[{"calculate":"datum.r*sin(datum.a*PI/180)","as":"x"},{"calculate":"datum.r*cos(datum.a*PI/180)","as":"y"}],"mark":{"type":"line","color":"#ff0000","strokeWidth":2.5,"strokeDash":[9,3,2.5,3]},"encoding":{"order":{"field":"a","type":"quantitative"}}},
{"data":{"values":[{"x":0,"y":1.233,"t":"0"},{"x":0,"y":-1.205,"t":"180"},{"x":-1.232,"y":0,"t":"270"},{"x":1.19,"y":0,"t":"90"}]},"mark":{"type":"text","font":"Liberation Sans","fontSize":18,"fontWeight":"bold","color":"#111"},"encoding":{"text":{"field":"t","type":"nominal"}}},
{"data":{"values":[{"x":0.24,"y":1.217,"t":"(+z)"}]},"mark":{"type":"text","font":"Liberation Sans","fontSize":15,"fontWeight":"bold","color":"#111"},"encoding":{"text":{"field":"t","type":"nominal"}}},
{"data":{"values":[{"x":1.2,"y":-0.25,"t":"(+x)"}]},"mark":{"type":"text","font":"Liberation Sans","fontSize":16.5,"fontWeight":"bold","color":"#111"},"encoding":{"text":{"field":"t","type":"nominal"}}}
]},
{"width":328,"height":295,"encoding":{"x":{"field":"x","type":"quantitative","scale":{"domain":[-1.5845,1.5845]},"axis":null},"y":{"field":"y","type":"quantitative","scale":{"domain":[-1.4251,1.4251]},"axis":null}},
"layer":[
{"data":{"name":"grid"},"mark":{"type":"rule","color":"#c4c4c4","strokeWidth":2.5},"encoding":{"x2":{"field":"x2"},"y2":{"field":"y2"}}},
{"data":{"values":[{"x":0,"y":0}]},"mark":{"type":"point","shape":"circle","filled":false,"size":42849,"color":"#c4c4c4","strokeWidth":3,"opacity":1}},
{"data":{"values":[{"x":0,"y":0}]},"mark":{"type":"point","shape":"circle","filled":false,"size":10712,"color":"#c4c4c4","strokeWidth":2.5,"opacity":1}},
{"data":{"name":"k12"},"transform":[{"calculate":"datum.r*sin(datum.a*PI/180)","as":"x"},{"calculate":"datum.r*cos(datum.a*PI/180)","as":"y"}],"mark":{"type":"line","color":"#000","strokeWidth":2.5,"interpolate":"catmull-rom"},"encoding":{"order":{"field":"a","type":"quantitative"}}},
{"data":{"name":"r12"},"transform":[{"calculate":"datum.r*sin(datum.a*PI/180)","as":"x"},{"calculate":"datum.r*cos(datum.a*PI/180)","as":"y"}],"mark":{"type":"line","color":"#ff0000","strokeWidth":2.5,"strokeDash":[9,3,2.5,3]},"encoding":{"order":{"field":"a","type":"quantitative"}}},
{"data":{"values":[{"x":0,"y":1.233,"t":"0"},{"x":0,"y":-1.205,"t":"180"},{"x":-1.235,"y":0,"t":"270"},{"x":1.195,"y":0,"t":"90"}]},"mark":{"type":"text","font":"Liberation Sans","fontSize":18,"fontWeight":"bold","color":"#111"},"encoding":{"text":{"field":"t","type":"nominal"}}},
{"data":{"values":[{"x":0.228,"y":1.177,"t":"(+z)"}]},"mark":{"type":"text","font":"Liberation Sans","fontSize":15.5,"fontWeight":"bold","color":"#111"},"encoding":{"text":{"field":"t","type":"nominal"}}},
{"data":{"values":[{"x":1.195,"y":-0.23,"t":"(+y)"}]},"mark":{"type":"text","font":"Liberation Sans","fontSize":16.5,"fontWeight":"bold","color":"#111"},"encoding":{"text":{"field":"t","type":"nominal"}}}
]},
{"width":328,"height":295,"encoding":{"x":{"field":"x","type":"quantitative","scale":{"domain":[-1.5845,1.5845]},"axis":null},"y":{"field":"y","type":"quantitative","scale":{"domain":[-1.4251,1.4251]},"axis":null}},
"layer":[
{"data":{"name":"grid"},"mark":{"type":"rule","color":"#c4c4c4","strokeWidth":2.5},"encoding":{"x2":{"field":"x2"},"y2":{"field":"y2"}}},
{"data":{"values":[{"x":0,"y":0}]},"mark":{"type":"point","shape":"circle","filled":false,"size":42849,"color":"#c4c4c4","strokeWidth":3,"opacity":1}},
{"data":{"values":[{"x":0,"y":0}]},"mark":{"type":"point","shape":"circle","filled":false,"size":10712,"color":"#c4c4c4","strokeWidth":2.5,"opacity":1}},
{"data":{"name":"k13"},"transform":[{"calculate":"datum.r*sin(datum.a*PI/180)","as":"x"},{"calculate":"datum.r*cos(datum.a*PI/180)","as":"y"}],"mark":{"type":"line","color":"#000","strokeWidth":2.5,"interpolate":"catmull-rom"},"encoding":{"order":{"field":"a","type":"quantitative"}}},
{"data":{"name":"r13"},"transform":[{"calculate":"datum.r*sin(datum.a*PI/180)","as":"x"},{"calculate":"datum.r*cos(datum.a*PI/180)","as":"y"}],"mark":{"type":"line","color":"#ff0000","strokeWidth":2.5,"strokeDash":[9,3,2.5,3]},"encoding":{"order":{"field":"a","type":"quantitative"}}},
{"data":{"values":[{"x":0,"y":1.233,"t":"0"},{"x":0,"y":-1.205,"t":"180"},{"x":-1.245,"y":0,"t":"270"},{"x":1.185,"y":0,"t":"90"}]},"mark":{"type":"text","font":"Liberation Sans","fontSize":18,"fontWeight":"bold","color":"#111"},"encoding":{"text":{"field":"t","type":"nominal"}}},
{"data":{"values":[{"x":0.257,"y":1.18,"t":"(+y)"}]},"mark":{"type":"text","font":"Liberation Sans","fontSize":18,"fontWeight":"bold","color":"#111"},"encoding":{"text":{"field":"t","type":"nominal"}}},
{"data":{"values":[{"x":1.187,"y":-0.23,"t":"(+x)"}]},"mark":{"type":"text","font":"Liberation Sans","fontSize":16.5,"fontWeight":"bold","color":"#111"},"encoding":{"text":{"field":"t","type":"nominal"}}}
]},
{"width":144.5,"height":298,"data":{"values":[{"x":0,"y":0,"t":"9.6 GHz"}]},"mark":{"type":"text","font":"Liberation Serif","fontSize":28,"color":"#222"},"encoding":{"x":{"field":"x","type":"quantitative","scale":{"domain":[-1,1]},"axis":null},"y":{"field":"y","type":"quantitative","scale":{"domain":[-1,1]},"axis":null},"text":{"field":"t","type":"nominal"}}},
{"width":328,"height":298,"encoding":{"x":{"field":"x","type":"quantitative","scale":{"domain":[-1.5845,1.5845]},"axis":null},"y":{"field":"y","type":"quantitative","scale":{"domain":[-1.4396,1.4396]},"axis":null}},
"layer":[
{"data":{"name":"grid"},"mark":{"type":"rule","color":"#c4c4c4","strokeWidth":2.5},"encoding":{"x2":{"field":"x2"},"y2":{"field":"y2"}}},
{"data":{"values":[{"x":0,"y":0}]},"mark":{"type":"point","shape":"circle","filled":false,"size":42849,"color":"#c4c4c4","strokeWidth":3,"opacity":1}},
{"data":{"values":[{"x":0,"y":0}]},"mark":{"type":"point","shape":"circle","filled":false,"size":10712,"color":"#c4c4c4","strokeWidth":2.5,"opacity":1}},
{"data":{"name":"k21"},"transform":[{"calculate":"datum.r*sin(datum.a*PI/180)","as":"x"},{"calculate":"datum.r*cos(datum.a*PI/180)","as":"y"}],"mark":{"type":"line","color":"#000","strokeWidth":2.5,"interpolate":"catmull-rom"},"encoding":{"order":{"field":"a","type":"quantitative"}}},
{"data":{"name":"r21"},"transform":[{"calculate":"datum.r*sin(datum.a*PI/180)","as":"x"},{"calculate":"datum.r*cos(datum.a*PI/180)","as":"y"}],"mark":{"type":"line","color":"#ff0000","strokeWidth":2.5,"strokeDash":[9,3,2.5,3]},"encoding":{"order":{"field":"a","type":"quantitative"}}},
{"data":{"values":[{"x":0,"y":1.253,"t":"0"},{"x":0,"y":-1.19,"t":"180"},{"x":-1.235,"y":0,"t":"270"},{"x":1.19,"y":0,"t":"90"}]},"mark":{"type":"text","font":"Liberation Sans","fontSize":18,"fontWeight":"bold","color":"#111"},"encoding":{"text":{"field":"t","type":"nominal"}}},
{"data":{"values":[{"x":0.245,"y":1.2,"t":"(+z)"}]},"mark":{"type":"text","font":"Liberation Sans","fontSize":17,"fontWeight":"bold","color":"#111"},"encoding":{"text":{"field":"t","type":"nominal"}}},
{"data":{"values":[{"x":1.2,"y":-0.25,"t":"(+x)"}]},"mark":{"type":"text","font":"Liberation Sans","fontSize":16.5,"fontWeight":"bold","color":"#111"},"encoding":{"text":{"field":"t","type":"nominal"}}}
]},
{"width":328,"height":298,"encoding":{"x":{"field":"x","type":"quantitative","scale":{"domain":[-1.5845,1.5845]},"axis":null},"y":{"field":"y","type":"quantitative","scale":{"domain":[-1.4396,1.4396]},"axis":null}},
"layer":[
{"data":{"name":"grid"},"mark":{"type":"rule","color":"#c4c4c4","strokeWidth":2.5},"encoding":{"x2":{"field":"x2"},"y2":{"field":"y2"}}},
{"data":{"values":[{"x":0,"y":0}]},"mark":{"type":"point","shape":"circle","filled":false,"size":42849,"color":"#c4c4c4","strokeWidth":3,"opacity":1}},
{"data":{"values":[{"x":0,"y":0}]},"mark":{"type":"point","shape":"circle","filled":false,"size":10712,"color":"#c4c4c4","strokeWidth":2.5,"opacity":1}},
{"data":{"name":"k22"},"transform":[{"calculate":"datum.r*sin(datum.a*PI/180)","as":"x"},{"calculate":"datum.r*cos(datum.a*PI/180)","as":"y"}],"mark":{"type":"line","color":"#000","strokeWidth":2.5,"interpolate":"catmull-rom"},"encoding":{"order":{"field":"a","type":"quantitative"}}},
{"data":{"name":"r22"},"transform":[{"calculate":"datum.r*sin(datum.a*PI/180)","as":"x"},{"calculate":"datum.r*cos(datum.a*PI/180)","as":"y"}],"mark":{"type":"line","color":"#ff0000","strokeWidth":2.5,"strokeDash":[9,3,2.5,3]},"encoding":{"order":{"field":"a","type":"quantitative"}}},
{"data":{"values":[{"x":0,"y":1.253,"t":"0"},{"x":0,"y":-1.19,"t":"180"},{"x":-1.235,"y":0,"t":"270"},{"x":1.195,"y":0,"t":"90"}]},"mark":{"type":"text","font":"Liberation Sans","fontSize":18,"fontWeight":"bold","color":"#111"},"encoding":{"text":{"field":"t","type":"nominal"}}},
{"data":{"values":[{"x":0.25,"y":1.196,"t":"(+z)"}]},"mark":{"type":"text","font":"Liberation Sans","fontSize":17,"fontWeight":"bold","color":"#111"},"encoding":{"text":{"field":"t","type":"nominal"}}},
{"data":{"values":[{"x":1.195,"y":-0.23,"t":"(+y)"}]},"mark":{"type":"text","font":"Liberation Sans","fontSize":16.5,"fontWeight":"bold","color":"#111"},"encoding":{"text":{"field":"t","type":"nominal"}}}
]},
{"width":328,"height":298,"encoding":{"x":{"field":"x","type":"quantitative","scale":{"domain":[-1.5845,1.5845]},"axis":null},"y":{"field":"y","type":"quantitative","scale":{"domain":[-1.4396,1.4396]},"axis":null}},
"layer":[
{"data":{"name":"grid"},"mark":{"type":"rule","color":"#c4c4c4","strokeWidth":2.5},"encoding":{"x2":{"field":"x2"},"y2":{"field":"y2"}}},
{"data":{"values":[{"x":0,"y":0}]},"mark":{"type":"point","shape":"circle","filled":false,"size":42849,"color":"#c4c4c4","strokeWidth":3,"opacity":1}},
{"data":{"values":[{"x":0,"y":0}]},"mark":{"type":"point","shape":"circle","filled":false,"size":10712,"color":"#c4c4c4","strokeWidth":2.5,"opacity":1}},
{"data":{"name":"k23"},"transform":[{"calculate":"datum.r*sin(datum.a*PI/180)","as":"x"},{"calculate":"datum.r*cos(datum.a*PI/180)","as":"y"}],"mark":{"type":"line","color":"#000","strokeWidth":2.5,"interpolate":"catmull-rom"},"encoding":{"order":{"field":"a","type":"quantitative"}}},
{"data":{"name":"r23"},"transform":[{"calculate":"datum.r*sin(datum.a*PI/180)","as":"x"},{"calculate":"datum.r*cos(datum.a*PI/180)","as":"y"}],"mark":{"type":"line","color":"#ff0000","strokeWidth":2.5,"strokeDash":[9,3,2.5,3]},"encoding":{"order":{"field":"a","type":"quantitative"}}},
{"data":{"values":[{"x":0,"y":1.253,"t":"0"},{"x":0,"y":-1.19,"t":"180"},{"x":-1.245,"y":0,"t":"270"},{"x":1.185,"y":0,"t":"90"}]},"mark":{"type":"text","font":"Liberation Sans","fontSize":18,"fontWeight":"bold","color":"#111"},"encoding":{"text":{"field":"t","type":"nominal"}}},
{"data":{"values":[{"x":0.273,"y":1.166,"t":"(+y)"}]},"mark":{"type":"text","font":"Liberation Sans","fontSize":18,"fontWeight":"bold","color":"#111"},"encoding":{"text":{"field":"t","type":"nominal"}}},
{"data":{"values":[{"x":1.187,"y":-0.23,"t":"(+x)"}]},"mark":{"type":"text","font":"Liberation Sans","fontSize":16.5,"fontWeight":"bold","color":"#111"},"encoding":{"text":{"field":"t","type":"nominal"}}}
]},
{"width":144.5,"height":301,"data":{"values":[{"x":0,"y":0,"t":"10.1 GHz"}]},"mark":{"type":"text","font":"Liberation Serif","fontSize":28,"color":"#222"},"encoding":{"x":{"field":"x","type":"quantitative","scale":{"domain":[-1,1]},"axis":null},"y":{"field":"y","type":"quantitative","scale":{"domain":[-1,1]},"axis":null},"text":{"field":"t","type":"nominal"}}},
{"width":328,"height":301,"encoding":{"x":{"field":"x","type":"quantitative","scale":{"domain":[-1.5845,1.5845]},"axis":null},"y":{"field":"y","type":"quantitative","scale":{"domain":[-1.4686,1.4396]},"axis":null}},
"layer":[
{"data":{"name":"grid"},"mark":{"type":"rule","color":"#c4c4c4","strokeWidth":2.5},"encoding":{"x2":{"field":"x2"},"y2":{"field":"y2"}}},
{"data":{"values":[{"x":0,"y":0}]},"mark":{"type":"point","shape":"circle","filled":false,"size":42849,"color":"#c4c4c4","strokeWidth":3,"opacity":1}},
{"data":{"values":[{"x":0,"y":0}]},"mark":{"type":"point","shape":"circle","filled":false,"size":10712,"color":"#c4c4c4","strokeWidth":2.5,"opacity":1}},
{"data":{"name":"k31"},"transform":[{"calculate":"datum.r*sin(datum.a*PI/180)","as":"x"},{"calculate":"datum.r*cos(datum.a*PI/180)","as":"y"}],"mark":{"type":"line","color":"#000","strokeWidth":2.5,"interpolate":"catmull-rom"},"encoding":{"order":{"field":"a","type":"quantitative"}}},
{"data":{"name":"r31"},"transform":[{"calculate":"datum.r*sin(datum.a*PI/180)","as":"x"},{"calculate":"datum.r*cos(datum.a*PI/180)","as":"y"}],"mark":{"type":"line","color":"#ff0000","strokeWidth":2.5,"strokeDash":[9,3,2.5,3]},"encoding":{"order":{"field":"a","type":"quantitative"}}},
{"data":{"values":[{"x":0,"y":1.23,"t":"0"},{"x":0,"y":-1.217,"t":"180"},{"x":-1.235,"y":0,"t":"270"},{"x":1.19,"y":0,"t":"90"}]},"mark":{"type":"text","font":"Liberation Sans","fontSize":18,"fontWeight":"bold","color":"#111"},"encoding":{"text":{"field":"t","type":"nominal"}}},
{"data":{"values":[{"x":0.24,"y":1.2,"t":"(+z)"}]},"mark":{"type":"text","font":"Liberation Sans","fontSize":18,"fontWeight":"bold","color":"#111"},"encoding":{"text":{"field":"t","type":"nominal"}}},
{"data":{"values":[{"x":1.2,"y":-0.24,"t":"(+x)"}]},"mark":{"type":"text","font":"Liberation Sans","fontSize":16.5,"fontWeight":"bold","color":"#111"},"encoding":{"text":{"field":"t","type":"nominal"}}}
]},
{"width":328,"height":301,"encoding":{"x":{"field":"x","type":"quantitative","scale":{"domain":[-1.5845,1.5845]},"axis":null},"y":{"field":"y","type":"quantitative","scale":{"domain":[-1.4686,1.4396]},"axis":null}},
"layer":[
{"data":{"name":"grid"},"mark":{"type":"rule","color":"#c4c4c4","strokeWidth":2.5},"encoding":{"x2":{"field":"x2"},"y2":{"field":"y2"}}},
{"data":{"values":[{"x":0,"y":0}]},"mark":{"type":"point","shape":"circle","filled":false,"size":42849,"color":"#c4c4c4","strokeWidth":3,"opacity":1}},
{"data":{"values":[{"x":0,"y":0}]},"mark":{"type":"point","shape":"circle","filled":false,"size":10712,"color":"#c4c4c4","strokeWidth":2.5,"opacity":1}},
{"data":{"name":"k32"},"transform":[{"calculate":"datum.r*sin(datum.a*PI/180)","as":"x"},{"calculate":"datum.r*cos(datum.a*PI/180)","as":"y"}],"mark":{"type":"line","color":"#000","strokeWidth":2.5,"interpolate":"catmull-rom"},"encoding":{"order":{"field":"a","type":"quantitative"}}},
{"data":{"name":"r32"},"transform":[{"calculate":"datum.r*sin(datum.a*PI/180)","as":"x"},{"calculate":"datum.r*cos(datum.a*PI/180)","as":"y"}],"mark":{"type":"line","color":"#ff0000","strokeWidth":2.5,"strokeDash":[9,3,2.5,3]},"encoding":{"order":{"field":"a","type":"quantitative"}}},
{"data":{"values":[{"x":0,"y":1.225,"t":"0"},{"x":0,"y":-1.217,"t":"180"},{"x":-1.235,"y":0,"t":"270"},{"x":1.195,"y":0,"t":"90"}]},"mark":{"type":"text","font":"Liberation Sans","fontSize":18,"fontWeight":"bold","color":"#111"},"encoding":{"text":{"field":"t","type":"nominal"}}},
{"data":{"values":[{"x":0.277,"y":1.193,"t":"(+z)"}]},"mark":{"type":"text","font":"Liberation Sans","fontSize":19,"fontWeight":"bold","color":"#111"},"encoding":{"text":{"field":"t","type":"nominal"}}},
{"data":{"values":[{"x":1.195,"y":-0.23,"t":"(+y)"}]},"mark":{"type":"text","font":"Liberation Sans","fontSize":16.5,"fontWeight":"bold","color":"#111"},"encoding":{"text":{"field":"t","type":"nominal"}}}
]},
{"width":328,"height":301,"encoding":{"x":{"field":"x","type":"quantitative","scale":{"domain":[-1.5845,1.5845]},"axis":null},"y":{"field":"y","type":"quantitative","scale":{"domain":[-1.4686,1.4396]},"axis":null}},
"layer":[
{"data":{"name":"grid"},"mark":{"type":"rule","color":"#c4c4c4","strokeWidth":2.5},"encoding":{"x2":{"field":"x2"},"y2":{"field":"y2"}}},
{"data":{"values":[{"x":0,"y":0}]},"mark":{"type":"point","shape":"circle","filled":false,"size":42849,"color":"#c4c4c4","strokeWidth":3,"opacity":1}},
{"data":{"values":[{"x":0,"y":0}]},"mark":{"type":"point","shape":"circle","filled":false,"size":10712,"color":"#c4c4c4","strokeWidth":2.5,"opacity":1}},
{"data":{"name":"k33"},"transform":[{"calculate":"datum.r*sin(datum.a*PI/180)","as":"x"},{"calculate":"datum.r*cos(datum.a*PI/180)","as":"y"}],"mark":{"type":"line","color":"#000","strokeWidth":2.5,"interpolate":"catmull-rom"},"encoding":{"order":{"field":"a","type":"quantitative"}}},
{"data":{"name":"r33"},"transform":[{"calculate":"datum.r*sin(datum.a*PI/180)","as":"x"},{"calculate":"datum.r*cos(datum.a*PI/180)","as":"y"}],"mark":{"type":"line","color":"#ff0000","strokeWidth":2.5,"strokeDash":[9,3,2.5,3]},"encoding":{"order":{"field":"a","type":"quantitative"}}},
{"data":{"values":[{"x":0,"y":1.246,"t":"0"},{"x":0,"y":-1.203,"t":"180"},{"x":-1.245,"y":0,"t":"270"},{"x":1.185,"y":0,"t":"90"}]},"mark":{"type":"text","font":"Liberation Sans","fontSize":18,"fontWeight":"bold","color":"#111"},"encoding":{"text":{"field":"t","type":"nominal"}}},
{"data":{"values":[{"x":0.248,"y":1.2,"t":"(+y)"}]},"mark":{"type":"text","font":"Liberation Sans","fontSize":17,"fontWeight":"bold","color":"#111"},"encoding":{"text":{"field":"t","type":"nominal"}}},
{"data":{"values":[{"x":1.187,"y":-0.23,"t":"(+x)"}]},"mark":{"type":"text","font":"Liberation Sans","fontSize":15,"fontWeight":"bold","color":"#111"},"encoding":{"text":{"field":"t","type":"nominal"}}}
]}
]
}
